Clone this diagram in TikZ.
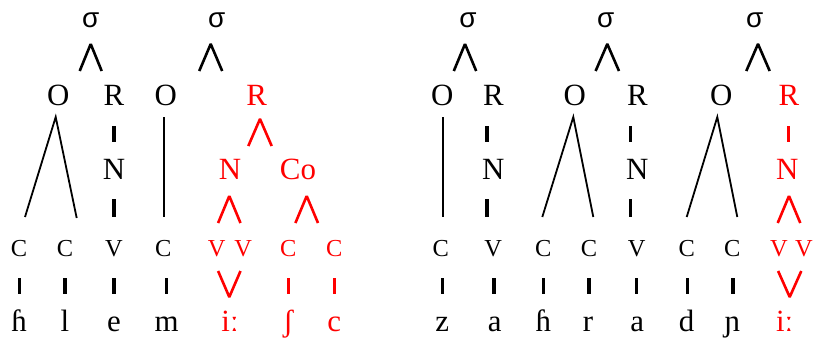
\documentclass[tikz,border=0pt]{standalone}
\usepackage{fontspec}
\setmainfont{Liberation Serif}
\newfontfamily\sigfont{Liberation Sans}
\begin{document}
\begin{tikzpicture}[x=1bp,y=-1bp,
  lab/.style={anchor=base,inner sep=0pt,font=\fontsize{31}{31}\selectfont},
  smc/.style={anchor=base,inner sep=0pt,font=\fontsize{24.5}{24.5}\selectfont},
  sig/.style={anchor=base,inner sep=0pt,font=\sigfont\fontsize{28}{28}\selectfont},
  hl/.style={text=red},
  tick/.style={line width=3.1bp},
  wedgeline/.style={line width=2.6bp,line join=bevel},
  branch/.style={line width=1.8bp}]
\useasboundingbox (0,0) rectangle (814,344);
% ---------- syllable nodes
\node[sig] (s1) at (90.7,27) {σ};
\node[sig] (s2) at (216.7,27) {σ};
\node[sig] (s3) at (468,27) {σ};
\node[sig] (s4) at (605.7,27) {σ};
\node[sig] (s5) at (754.7,27) {σ};
\foreach \ax/\hw in {90.7/11, 210.7/11.5, 465/11.2, 607.3/11.7, 758/11.7}
  \draw[wedgeline] (\ax-\hw,71) -- (\ax,44) -- (\ax+\hw,71);
% ---------- O / R row
\node[lab] (O1) at (58.3,105) {O};
\node[lab] (R1) at (114,105) {R};
\node[lab] (O2) at (165.7,105) {O};
\node[lab,hl] (R2) at (256.7,105) {R};
\node[lab] (O3) at (442.3,105) {O};
\node[lab] (R3) at (493.3,105) {R};
\node[lab] (O4) at (574.7,105) {O};
\node[lab] (R4) at (637.3,105) {R};
\node[lab] (O5) at (721.3,105) {O};
\node[lab,hl] (R5) at (789,105) {R};
% ---------- N row
\node[lab] (N1) at (114,179) {N};
\node[lab,hl] (N2) at (230,179) {N};
\node[lab,hl] (Co) at (298,179) {Co};
\node[lab] (N3) at (493.3,179) {N};
\node[lab] (N4) at (637.3,179) {N};
\node[lab,hl] (N5) at (787.3,179) {N};
% ---------- C / V row
\foreach \n/\x/\t in {c1/19/C, c2/65/C, v1/114/V, c3/163.3/C,
    c4/440.7/C, v4/493.3/V, c5/543.3/C, c6/589/C, v5/636.7/V, c7/686.7/C, c8/732.3/C}
  \node[smc] (\n) at (\x,256.5) {\t};
\foreach \n/\x/\t in {v2/216.7/V, v3/243.3/V, c9/288.3/C, c10/334.3/C, v6/779/V, v7/804/V}
  \node[smc,hl] (\n) at (\x,256.5) {\t};
% ---------- segment row
\foreach \n/\x/\t in {p1/19/ɦ, p2/65/l, p3/114/e, p4/166.7/m,
    p8/442.3/z, p9/494.7/a, p10/543.3/ɦ, p11/588/r, p12/637.3/a, p13/686.7/d, p14/732.3/ɲ}
  \node[lab] (\n) at (\x,331.5) {\t};
\foreach \n/\x/\t in {p5/230/iː, p6/288.3/ʃ, p7/334.3/c, p15/784.7/iː}
  \node[lab,hl] (\n) at (\x,331.5) {\t};
% ---------- long branches from O
\draw[branch] (25,217) -- (55.7,117) -- (76.7,218);
\draw[branch] (164.3,117) -- (164.3,217);
\draw[branch] (443.3,117) -- (443.3,217);
\draw[branch] (542.3,217) -- (573.3,117) -- (593.3,217);
\draw[branch] (686.7,217) -- (717.3,117) -- (737.3,217);
% ---------- short ticks (black)
\foreach \x in {114, 487, 630.7} \draw[tick] (\x,126) -- (\x,142);
\foreach \x in {114, 487, 630.7} \draw[tick] (\x,199) -- (\x,217);
\foreach \x in {19.3, 65, 114, 166.7, 442.3, 494, 543.3, 589, 636.7, 687.3, 733}
  \draw[tick] (\x,278) -- (\x,294);
% ---------- red ticks and wedges
\draw[tick,red] (788.3,126) -- (788.3,142);
\foreach \x in {288.3, 334.3} \draw[tick,red] (\x,278) -- (\x,294);
\foreach \ax/\ay/\hw in {260/119/11.7, 229.3/196/11.2, 306.7/196/11.3, 789/196/11.3}
  \draw[wedgeline,red] (\ax-\hw,\ay+27) -- (\ax,\ay) -- (\ax+\hw,\ay+27);
\foreach \ax/\hw in {229.3/11.2, 789.7/11.6}
  \draw[wedgeline,red] (\ax-\hw,271) -- (\ax,297) -- (\ax+\hw,271);
\end{tikzpicture}
\end{document}
